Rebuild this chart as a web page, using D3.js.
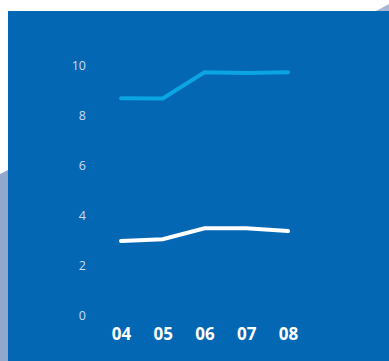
<!DOCTYPE html>
<html>
<head>
<meta charset="utf-8">
<script src="https://cdn.jsdelivr.net/npm/d3@7"></script>
<style>
  body { margin: 0; background: #fff; }
  svg { display: block; }
</style>
</head>
<body>
<svg id="chart"></svg>
<script>
const years = ['04', '05', '06', '07', '08'];
const upperSeries = [8.67, 8.66, 9.71, 9.68, 9.71];
const lowerSeries = [2.96, 3.03, 3.47, 3.47, 3.36];
const yTicks = [0, 2, 4, 6, 8, 10];

(function(){
    const W = 389, H = 361;
    const svg = d3.select('#chart').attr('width', W).attr('height', H);

    // decorative grey-blue shapes behind the panel
    svg.append('path').attr('d', `M0,174 L8,170 L8,${H} L0,${H}Z`).attr('fill', '#93a6cc');
    svg.append('path').attr('d', `M376,11 L389,4 L389,11Z`).attr('fill', '#a9b6d6');

    // blue panel
    svg.append('rect').attr('x', 8).attr('y', 11).attr('width', W - 8).attr('height', H - 11).attr('fill', '#0367b4');

    const x = d3.scalePoint().domain(years).range([121, 288]);
    const y = d3.scaleLinear().domain([0, 10]).range([315, 65]);

    const yAxis = svg.append('g').attr('transform', 'translate(86,0)')
        .call(d3.axisLeft(y).tickValues(yTicks).tickSize(0).tickPadding(0));
    yAxis.select('.domain').remove();
    yAxis.selectAll('text')
        .style('font-family', '"Open Sans", sans-serif')
        .style('font-size', '12.5px')
        .style('fill', '#cddcf0');

    const xAxis = svg.append('g').attr('transform', 'translate(0,328)')
        .call(d3.axisBottom(x).tickSize(0).tickPadding(0));
    xAxis.select('.domain').remove();
    xAxis.selectAll('text')
        .style('font-family', '"Open Sans", sans-serif')
        .style('font-size', '17px')
        .style('font-weight', '700')
        .style('fill', '#ffffff');

    const line = d3.line().x((d, i) => x(years[i])).y(d => y(d));

    svg.append('path').datum(upperSeries)
        .attr('fill', 'none').attr('stroke', '#0aa5e2').attr('stroke-width', 4)
        .attr('stroke-linecap', 'round').attr('d', line);

    svg.append('path').datum(lowerSeries)
        .attr('fill', 'none').attr('stroke', '#ffffff').attr('stroke-width', 4)
        .attr('stroke-linecap', 'round').attr('d', line);
})();
</script>
</body>
</html>
